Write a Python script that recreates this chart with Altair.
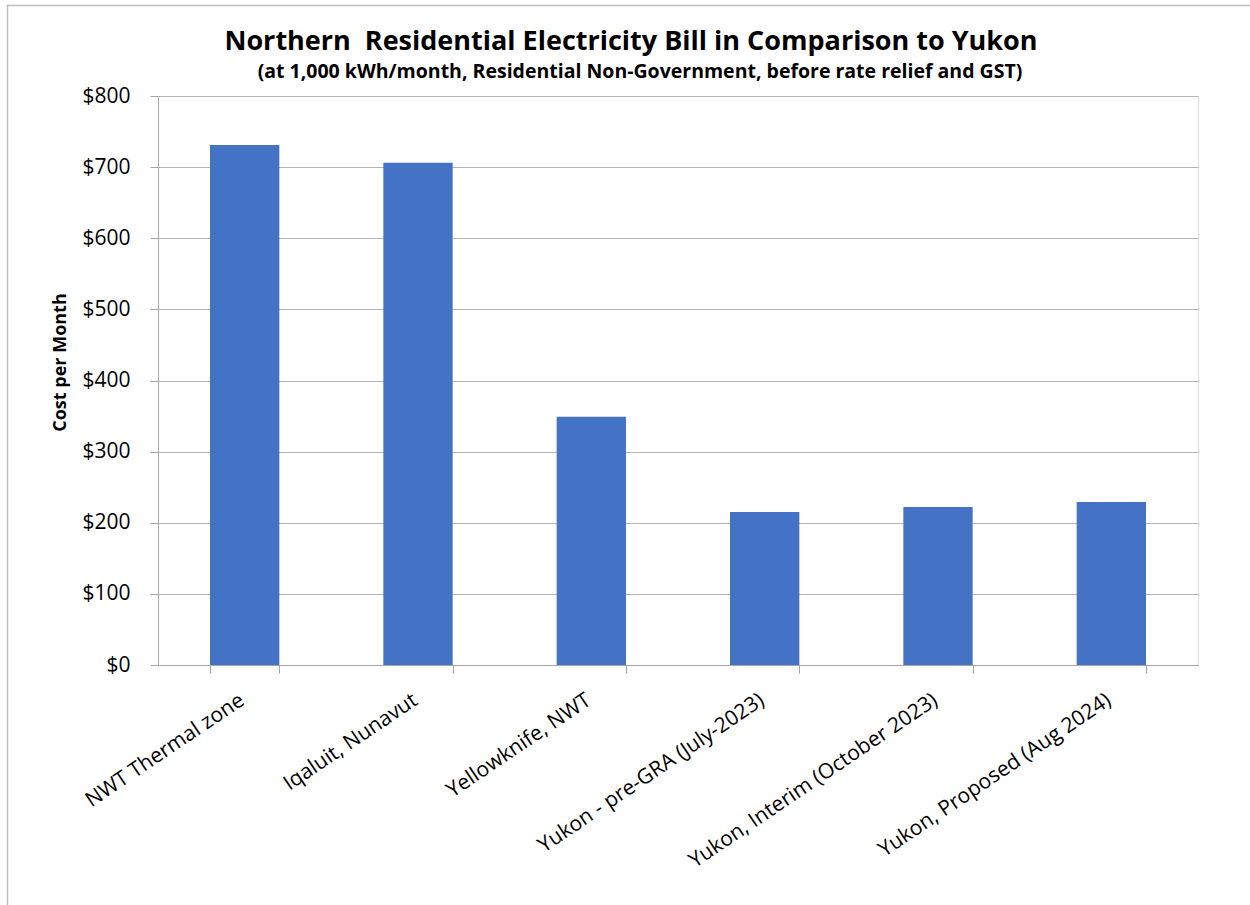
import altair as alt
import pandas as pd

# Monthly bill at 1,000 kWh for each northern jurisdiction
regions = [
    "NWT Thermal zone",
    "Iqaluit, Nunavut",
    "Yellowknife, NWT",
    "Yukon - pre-GRA (July-2023)",
    "Yukon, Interim (October 2023)",
    "Yukon, Proposed (Aug 2024)",
]
cost = [731, 706, 349, 215, 222, 229]

# non-breaking space keeps the double gap after "Northern"
title_text = "Northern\u00a0 Residential Electricity Bill in Comparison to Yukon"
subtitle_text = "(at 1,000 kWh/month, Residential Non-Government, before rate relief and GST)"

df = pd.DataFrame({"region": regions, "cost": cost})
one = pd.DataFrame({"title": [title_text], "subtitle": [subtitle_text]})

W, H = 1040, 569
LEFT, TOP = 158, 96
FONT = "Open Sans"

bars = alt.Chart(df).mark_bar(color="#4472C4").encode(
    x=alt.X(
        "region:N",
        sort=regions,
        title=None,
        scale=alt.Scale(paddingInner=0.6, paddingOuter=0.3),
        axis=alt.Axis(
            labelAngle=-34,
            labelAlign="right",
            labelBaseline="top",
            labelFontSize=21,
            labelFont=FONT,
            labelColor="#000000",
            labelPadding=16,
            labelOffset=-9,
            tickBand="extent",
            tickSize=8,
            tickColor="#a6a6a6",
            domainColor="#a6a6a6",
            labelLimit=400,
        ),
    ),
    y=alt.Y(
        "cost:Q",
        title="Cost per Month",
        scale=alt.Scale(domain=[0, 800], nice=False),
        axis=alt.Axis(
            values=[0, 100, 200, 300, 400, 500, 600, 700, 800],
            format="$,d",
            labelFontSize=21,
            labelFont=FONT,
            labelColor="#000000",
            labelPadding=20,
            tickSize=8,
            tickColor="#a6a6a6",
            domainColor="#a6a6a6",
            gridColor="#b3b3b3",
            titleFontSize=18,
            titleFont=FONT,
            titleFontWeight="bold",
            titleColor="#000000",
            titlePadding=12,
            titleY=266,
        ),
    ),
)

# Light frame along the top and left of the figure
frame = alt.Chart(one).mark_rect(
    fill=None, stroke="#bfbfbf", strokeWidth=1.5, clip=False
).encode(
    x=alt.value(7.5 - LEFT),
    x2=alt.value(1300 - LEFT),
    y=alt.value(5.5 - TOP),
    y2=alt.value(1000 - TOP),
)

heading = alt.Chart(one).mark_text(
    font=FONT, fontSize=27, fontWeight="bold",
    color="#000000", align="center", baseline="alphabetic",
).encode(text="title:N", x=alt.value(631 - LEFT), y=alt.value(50 - TOP))

subheading = alt.Chart(one).mark_text(
    font=FONT, fontSize=19.5, fontWeight="bold",
    color="#000000", align="center", baseline="alphabetic",
).encode(text="subtitle:N", x=alt.value(640 - LEFT), y=alt.value(78 - TOP))

chart = (
    alt.layer(frame, bars, heading, subheading)
    .properties(
        width=W,
        height=H,
        autosize=alt.AutoSizeParams(type="none"),
        padding={"left": LEFT, "top": TOP, "right": 1250 - LEFT - W, "bottom": 905 - TOP - H},
    )
    .configure_view(stroke=None)
    .configure(background="#ffffff")
)

chart.save("out.html", embed_options={"renderer": "svg", "actions": False})
